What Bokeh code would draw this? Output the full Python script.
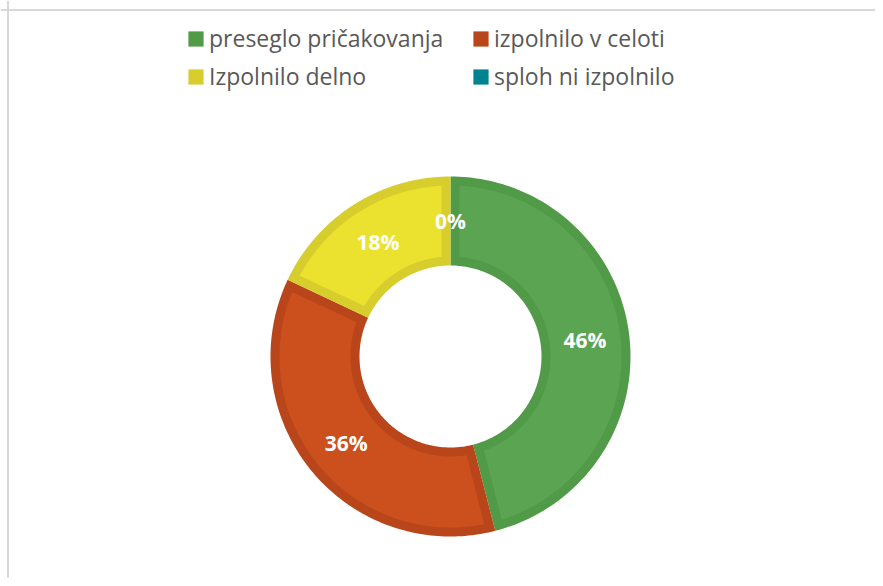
import numpy as np
from bokeh.plotting import figure
from bokeh.models import ColumnDataSource, Range1d, Legend, LegendItem, Span
from bokeh.embed import file_html
from bokeh.resources import INLINE
from bokeh.core.properties import value

# ---- data ----
categories = ["preseglo pričakovanja", "izpolnilo v celoti", "Izpolnilo delno", "sploh ni izpolnilo"]
shares = [46, 36, 18, 0]
fill_colors = ["#5BA552", "#CB501D", "#EBE22F", "#00838F"]
edge_colors = ["#519A48", "#B8461A", "#D7CD2C", "#00838F"]

# ---- geometry (styling) ----
W, H = 875, 578
cx, cy = 450.0, 356.0
r_out, r_in, band = 180.0, 91.0, 9.0


def arc(r, a0, a1, n=120):
    t = np.linspace(a0, a1, n)
    return cx + r * np.sin(t), cy - r * np.cos(t)


total = float(sum(shares))
fr = np.array(shares, dtype=float) / total
starts = np.concatenate([[0.0], np.cumsum(fr)[:-1]]) * 2 * np.pi
ends = np.cumsum(fr) * 2 * np.pi

outer_xs, outer_ys, inner_xs, inner_ys = [], [], [], []
lab_x, lab_y, lab_t = [], [], []
for a0, a1, s in zip(starts, ends, shares):
    ox, oy = arc(r_out, a0, a1)
    ix, iy = arc(r_in, a1, a0)
    outer_xs.append(list(np.concatenate([ox, ix])))
    outer_ys.append(list(np.concatenate([oy, iy])))
    ro2, ri2 = r_out - band, r_in + band
    if a1 - a0 > 2 * np.arcsin(band / ri2):
        ox2, oy2 = arc(ro2, a0 + np.arcsin(band / ro2), a1 - np.arcsin(band / ro2))
        ix2, iy2 = arc(ri2, a1 - np.arcsin(band / ri2), a0 + np.arcsin(band / ri2))
        inner_xs.append(list(np.concatenate([ox2, ix2])))
        inner_ys.append(list(np.concatenate([oy2, iy2])))
    else:
        inner_xs.append([cx, cx])
        inner_ys.append([cy, cy])
    mid = (a0 + a1) / 2 if s > 0 else a0
    rm = (r_out + r_in) / 2
    lab_x.append(cx + rm * np.sin(mid))
    lab_y.append(cy - rm * np.cos(mid))
    lab_t.append(f"{s}%")

p = figure(width=W, height=H, output_backend="svg", toolbar_location=None,
           x_range=Range1d(0, W), y_range=Range1d(H, 0), min_border=0,
           x_axis_location=None, y_axis_location=None)
p.grid.visible = False
p.outline_line_color = None
p.background_fill_color = "white"
p.border_fill_color = "white"

p.add_layout(Span(location=7.5, dimension="height", line_color="#D9D9D9", line_width=2))
p.add_layout(Span(location=9.5, dimension="width", line_color="#D9D9D9", line_width=2))

outer_src = ColumnDataSource(dict(xs=outer_xs, ys=outer_ys, color=edge_colors, cat=categories))
inner_src = ColumnDataSource(dict(xs=inner_xs, ys=inner_ys, color=fill_colors))
r_outer = p.patches("xs", "ys", source=outer_src, fill_color="color", line_color=None)
p.patches("xs", "ys", source=inner_src, fill_color="color", line_color=None)

lab_src = ColumnDataSource(dict(x=lab_x, y=lab_y, t=lab_t))
p.text("x", "y", text="t", source=lab_src, text_color="white", text_font=value("Open Sans"),
       text_font_style="bold", text_font_size="21px", text_align="center", text_baseline="middle")

items = [LegendItem(label=c, renderers=[r_outer], index=i) for i, c in enumerate(categories)]
legend = Legend(items=items, orientation="horizontal", ncols=2, location=(186, 486),
                label_text_font="Open Sans", label_text_font_size="23px", label_text_color="#595959",
                glyph_width=19, glyph_height=19, label_standoff=4, label_height=27, label_width=256,
                spacing=6, padding=0, margin=0, border_line_color=None, background_fill_alpha=0)
p.add_layout(legend)

open("out.html", "w").write(file_html(p, INLINE))
